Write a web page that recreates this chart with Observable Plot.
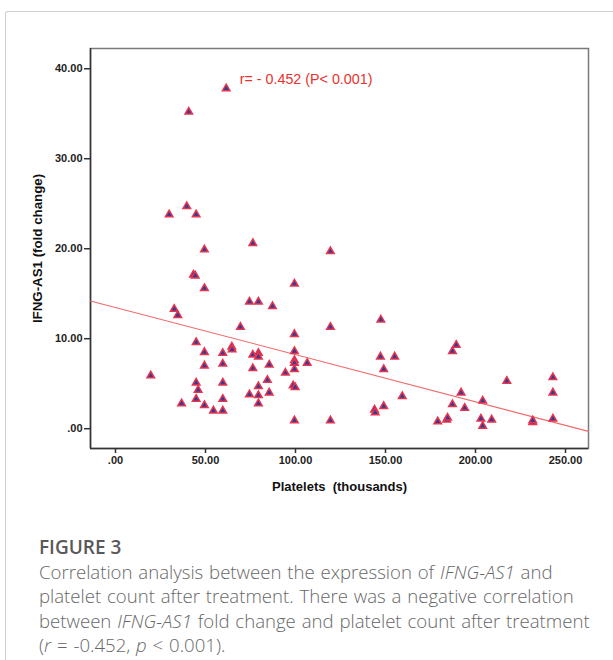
<!DOCTYPE html>
<html>
<head>
<meta charset="utf-8">
<script src="https://cdn.jsdelivr.net/npm/d3@7"></script>
<script src="https://cdn.jsdelivr.net/npm/@observablehq/plot@0.6"></script>
<style>
  html, body { margin: 0; padding: 0; background: #fff; width: 613px; height: 660px; overflow: hidden; }
  #frame { position: absolute; left: 5px; top: 11px; width: 700px; height: 700px;
           border-left: 1px solid #cfcfcf; border-top: 1px solid #cfcfcf; border-top-left-radius: 3px; }
  #chart { position: absolute; left: 0; top: 0; }
  #caption { position: absolute; left: 39px; top: 535px; width: 572px;
             font-family: "Open Sans", "Noto Sans", sans-serif; font-weight: 300;
             font-size: 18.6px; line-height: 24.5px; color: #676767; word-spacing: 1px; white-space: nowrap; }
  #caption .fig { font-weight: 600; color: #595959; font-size: 19px; word-spacing: 0; }
</style>
</head>
<body>
<div id="frame"></div>
<div id="chart"></div>
<div id="caption">
  <div class="fig">FIGURE 3</div>
  Correlation analysis between the expression of <i>IFNG-AS1</i> and<br>
  platelet count after treatment. There was a negative correlation<br>
  between <i>IFNG-AS1</i> fold change and platelet count after treatment<br>
  (<i>r</i> = -0.452, <i>p</i> &lt; 0.001).
</div>
<script>
// Platelets (thousands)
const platelets = [
  40.7, 29.8, 39.6, 44.8, 49.4, 61.5, 76.3, 119.4, 43.3, 44.3,
  49.4, 32.6, 34.6, 44.8, 49.4, 49.4, 19.6, 44.8, 45.9, 44.8,
  36.7, 49.4, 54.4, 59.6, 99.4, 74.4, 79.4, 87.2, 69.4, 119.4,
  147.4, 99.4, 59.6, 64.6, 64.8, 76.3, 79.4, 79.4, 99.4, 99.4,
  99.4, 106.5, 147.2, 155.1, 59.6, 76.3, 85.4, 99.4, 94.4, 149.0,
  59.6, 84.4, 79.4, 98.7, 99.8, 74.4, 79.4, 85.4, 59.6, 79.4,
  99.4, 119.4, 143.9, 144.3, 149.0, 159.3, 189.3, 187.2, 192.0, 187.2,
  194.0, 179.0, 184.0, 184.5, 204.0, 203.0, 204.0, 209.0, 217.4, 231.8,
  231.8, 243.0, 243.0, 243.0
];
// IFNG-AS1 (fold change)
const foldChange = [
  35.2, 23.8, 24.7, 23.8, 19.9, 37.8, 20.6, 19.7, 17.1, 17.0,
  15.6, 13.3, 12.6, 9.6, 8.5, 7.0, 5.9, 5.1, 4.3, 3.3,
  2.8, 2.6, 2.0, 2.0, 16.1, 14.1, 14.1, 13.6, 11.3, 11.3,
  12.1, 10.5, 8.4, 9.1, 8.8, 8.2, 8.4, 8.0, 8.6, 7.6,
  7.3, 7.3, 8.0, 8.0, 7.2, 6.7, 7.1, 6.6, 6.2, 6.6,
  5.1, 5.4, 4.7, 4.8, 4.6, 3.8, 3.7, 4.0, 3.3, 2.8,
  0.9, 0.9, 2.1, 1.8, 2.5, 3.6, 9.3, 8.6, 4.0, 2.7,
  2.3, 0.8, 1.0, 1.2, 3.1, 1.1, 0.3, 1.0, 5.3, 0.7,
  0.9, 5.7, 4.0, 1.1
];
const xTicks = [0, 50, 100, 150, 200, 250];
const yTicks = [0, 10, 20, 30, 40];
const xDomain = [-13.89, 262.78];
const yDomain = [-2.2, 42.25];
// fit line: fold change = intercept + slope * platelets
const fitIntercept = 13.47;
const fitSlope = -0.0524;
const annotation = [{x: 69, y: 38.8, label: "r= - 0.452 (P< 0.001)"}];
const xLabel = "Platelets  (thousands)";
const yLabel = "IFNG-AS1 (fold change)";

const points = platelets.map((p, i) => ({x: p, y: foldChange[i]}));
const fitLine = xDomain.map(x => ({x, y: fitIntercept + fitSlope * x}));
const fmt = d => d === 0 ? ".00" : d.toFixed(2);

const plot = Plot.plot({
  width: 613,
  height: 500,
  marginLeft: 90,
  marginRight: 25,
  marginTop: 48,
  marginBottom: 52,
  style: {fontFamily: "'Liberation Sans', Arial, sans-serif", fontSize: "11px", fontWeight: "bold", color: "#222", background: "transparent"},
  x: {domain: xDomain},
  y: {domain: yDomain},
  marks: [
    Plot.frame({stroke: "#7a7a7a", strokeWidth: 1.5}),
    Plot.ruleX([xDomain[0]], {stroke: "#333", strokeWidth: 1.5}),
    Plot.ruleY([yDomain[0]], {stroke: "#333", strokeWidth: 1.5}),
    Plot.axisY({ticks: yTicks, tickFormat: fmt, tickSize: 6, tickPadding: 2, label: null, stroke: "#333", strokeWidth: 1.5}),
    Plot.axisX({ticks: xTicks, tickFormat: fmt, tickSize: 5, tickPadding: 3, label: null, stroke: "#333", strokeWidth: 1.5}),
    Plot.line(fitLine, {x: "x", y: "y", stroke: "#f26a6a", strokeWidth: 1.1}),
    Plot.dot(points, {x: "x", y: "y", symbol: "triangle", r: 2.8, fill: "#3b3a92", stroke: "#e8344e", strokeWidth: 1.5}),
    Plot.text(annotation, {x: "x", y: "y", text: "label", textAnchor: "start", fill: "#e8322e", fontSize: 14.3, fontWeight: "normal"}),
    Plot.text([xLabel], {frameAnchor: "bottom", textAnchor: "middle", lineAnchor: "middle", dy: 38, fontSize: 13, fontWeight: "bold", fill: "#111"}),
    Plot.text([yLabel], {frameAnchor: "left", textAnchor: "middle", lineAnchor: "middle", dx: -53, rotate: -90, fontSize: 13.3, fontWeight: "bold", fill: "#111"})
  ]
});
document.getElementById("chart").appendChild(plot);
</script>
</body>
</html>
